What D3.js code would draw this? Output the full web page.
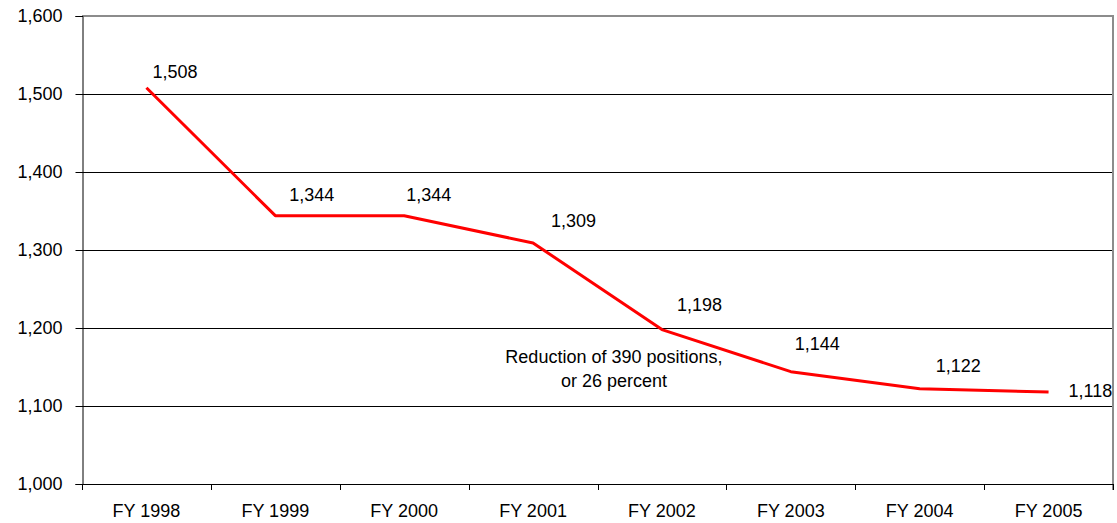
<!DOCTYPE html>
<html>
<head>
<meta charset="utf-8">
<script src="https://cdn.jsdelivr.net/npm/d3@7"></script>
<style>
  html, body { margin: 0; padding: 0; background: #fff; }
  svg { display: block; font-family: "Liberation Sans", Arial, sans-serif; }
</style>
</head>
<body>
<svg id="chart" width="1117" height="523"></svg>
<script>
// Positions per fiscal year
const years = ["FY 1998", "FY 1999", "FY 2000", "FY 2001", "FY 2002", "FY 2003", "FY 2004", "FY 2005"];
const positions = [1508, 1344, 1344, 1309, 1198, 1144, 1122, 1118];
const yTicks = [1000, 1100, 1200, 1300, 1400, 1500, 1600];
const noteLines = ["Reduction of 390 positions,", "or 26 percent"];

// Label placement relative to each point (dx to text start, dy to baseline)
const labelOffsets = [[6, -10], [14, -15], [2, -15], [18, -16], [15, -19], [4, -22], [16, -17], [20, 5]];

const W = 1117, H = 523;
const margin = { top: 16, right: 4, bottom: 39, left: 82 };
const innerW = W - margin.left - margin.right;
const innerH = H - margin.top - margin.bottom;

const svg = d3.select("#chart");
const g = svg.append("g").attr("transform", `translate(${margin.left},${margin.top})`);

const x = d3.scaleBand().domain(years).range([0, innerW]).padding(0);
const y = d3.scaleLinear().domain([1000, 1600]).range([innerH, 0]);
const fmt = d3.format(",");
const cx = d => x(d) + x.bandwidth() / 2;

// Horizontal gridlines
g.selectAll("line.grid")
  .data(yTicks.filter(v => v !== 1000 && v !== 1600))
  .join("line")
  .attr("class", "grid")
  .attr("x1", 0).attr("x2", innerW)
  .attr("y1", d => Math.round(y(d)) + 0.5).attr("y2", d => Math.round(y(d)) + 0.5)
  .attr("stroke", "#000").attr("stroke-width", 1);

// Plot frame: grey top and right edges
g.append("path")
  .attr("d", `M0,${Math.round(y(1600))} H${innerW} V${innerH + 6}`)
  .attr("fill", "none").attr("stroke", "#8c8c8c").attr("stroke-width", 2);

// Y axis
const yAxis = d3.axisLeft(y).tickValues(yTicks).tickFormat(fmt).tickSize(7).tickPadding(13);
const ya = g.append("g").attr("transform", "translate(0.5,0)").call(yAxis);
ya.select(".domain").attr("stroke", "#000");
ya.selectAll(".tick line").attr("stroke", "#000");
ya.selectAll(".tick text").attr("font-size", 18).attr("fill", "#000")
  .attr("font-family", "Liberation Sans, Arial, sans-serif");

// X axis baseline with ticks at category boundaries
g.append("line")
  .attr("x1", 0).attr("x2", innerW)
  .attr("y1", innerH + 0.5).attr("y2", innerH + 0.5)
  .attr("stroke", "#000");
const bounds = years.map(d => x(d)).concat([innerW]);
g.selectAll("line.xtick").data(bounds).join("line")
  .attr("class", "xtick")
  .attr("x1", d => Math.round(d) + 0.5).attr("x2", d => Math.round(d) + 0.5)
  .attr("y1", innerH).attr("y2", innerH + 6)
  .attr("stroke", "#000");
g.selectAll("text.xlab").data(years).join("text")
  .attr("class", "xlab")
  .attr("x", d => cx(d)).attr("y", innerH + 33)
  .attr("text-anchor", "middle").attr("font-size", 18).attr("fill", "#000")
  .text(d => d);

// Series line
const pts = years.map((yr, i) => ({ yr, v: positions[i], off: labelOffsets[i] }));
g.append("path")
  .datum(pts)
  .attr("fill", "none")
  .attr("stroke", "#ff0000")
  .attr("stroke-width", 3)
  .attr("stroke-linejoin", "round")
  .attr("d", d3.line().x(d => cx(d.yr)).y(d => y(d.v)));

// Value labels
g.selectAll("text.val").data(pts).join("text")
  .attr("class", "val")
  .attr("x", d => cx(d.yr) + d.off[0])
  .attr("y", d => y(d.v) + d.off[1])
  .attr("font-size", 18).attr("fill", "#000")
  .text(d => fmt(d.v));

// Annotation below the FY 2002 point
const note = g.append("text")
  .attr("text-anchor", "middle")
  .attr("font-size", 18).attr("fill", "#000");
note.selectAll("tspan").data(noteLines).join("tspan")
  .attr("x", cx("FY 2002") - 48)
  .attr("y", (d, i) => y(1200) + 35 + i * 24)
  .text(d => d);
</script>
</body>
</html>
